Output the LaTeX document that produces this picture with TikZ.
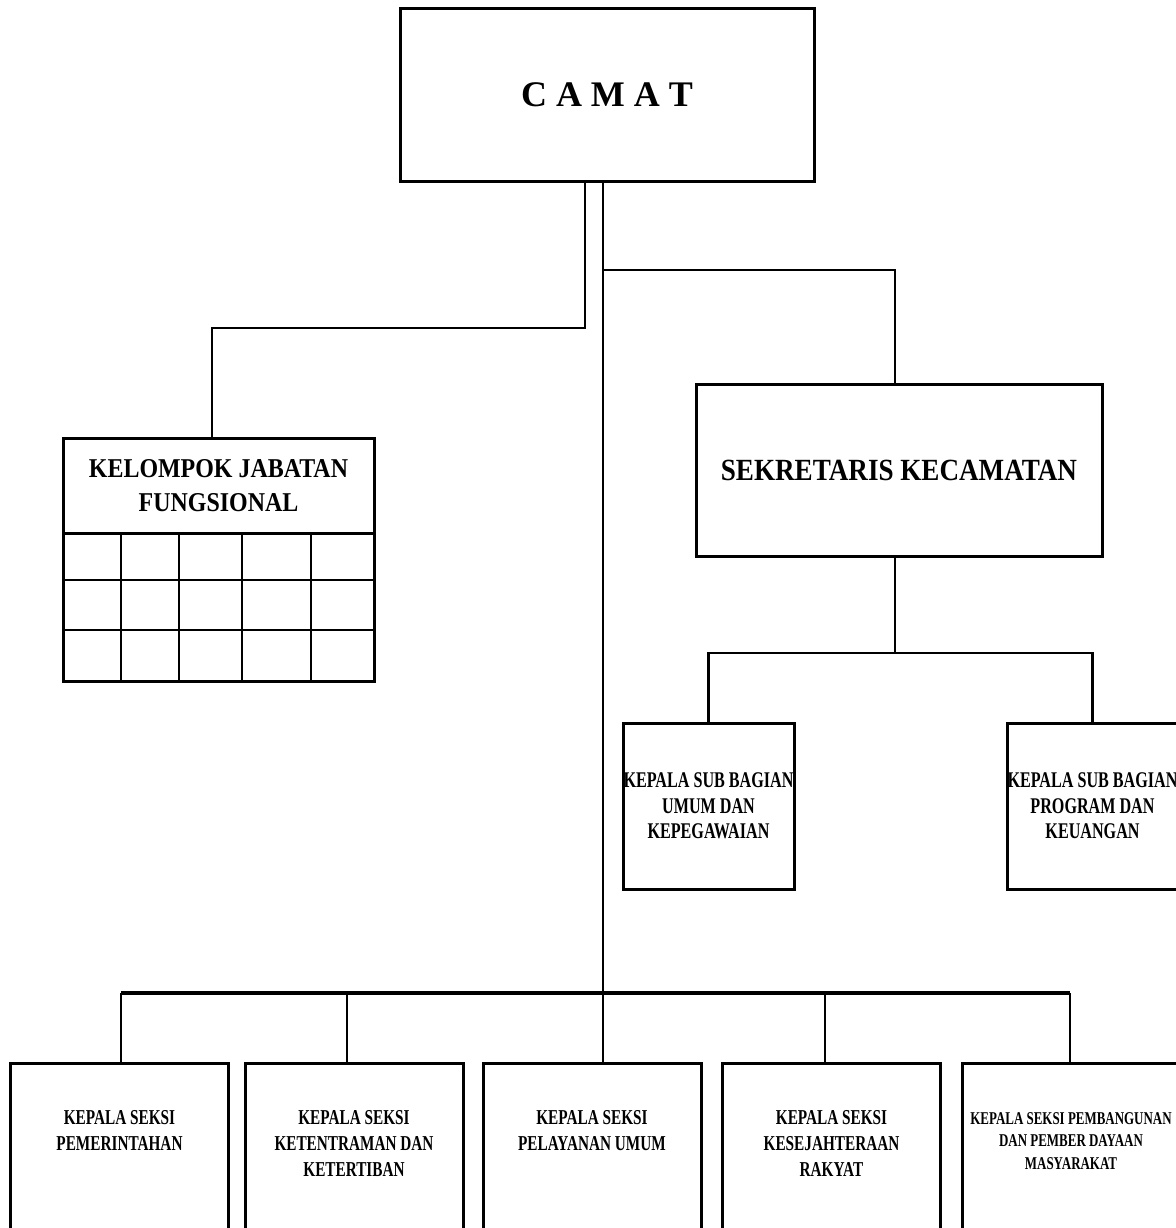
\documentclass[tikz,border=0pt]{standalone}
\usepackage{fontspec}
\setmainfont{Liberation Serif}
\newfontfamily\headfont[FakeStretch=0.88]{Liberation Serif}
\newfontfamily\narrowfont[FakeStretch=0.72]{Liberation Serif}
\usetikzlibrary{positioning}

\begin{document}
\begin{tikzpicture}[x=0.5pt, y=-0.5pt,
    unit/.style={draw, line width=1.5pt, inner sep=0pt, align=center},
    seksi/.style={unit, anchor=north, minimum width=109pt, minimum height=120pt},
    txt/.style={inner sep=0pt, align=center, anchor=north},
    link/.style={line width=1.4pt},
    bus/.style={line width=2.4pt},
    grid/.style={line width=1.2pt},
    headtxt/.style={font=\headfont\bfseries\fontsize{13.6}{17}\selectfont},
    subtxt/.style={font=\narrowfont\bfseries\fontsize{11.2}{12.75}\selectfont},
    seksitxt/.style={txt, font=\narrowfont\bfseries\fontsize{10.6}{13}\selectfont}]
    \useasboundingbox (0,0) rectangle (1176,1228);

    % Camat
    \node[unit, minimum width=207pt, minimum height=86.5pt,
          font=\bfseries\fontsize{18}{22}\selectfont] (camat) at (607,94.5) {C A M A T};

    % Kelompok jabatan fungsional
    \node[unit, minimum width=155.5pt, minimum height=47.5pt, headtxt] (kjf) at (218.5,485.5)
        {KELOMPOK JABATAN\\FUNGSIONAL};
    \draw[line width=1.5pt] (63,533) rectangle (374,681);
    \foreach \x in {121,179,242,311}
        \draw[grid] (\x,533) -- (\x,681);
    \foreach \y in {580,630}
        \draw[grid] (63,\y) -- (374,\y);

    % Sekretaris dan sub bagian
    \node[unit, minimum width=203pt, minimum height=86pt,
          font=\headfont\bfseries\fontsize{15.4}{18}\selectfont] (sek) at (899,470)
        {SEKRETARIS KECAMATAN};
    \node[unit, minimum width=85.5pt, minimum height=83pt, subtxt] (ksb1) at (708.5,806)
        {KEPALA SUB BAGIAN\\UMUM DAN\\KEPEGAWAIAN};
    \node[unit, minimum width=85.5pt, minimum height=83pt, subtxt] (ksb2) at (1092.5,806)
        {KEPALA SUB BAGIAN\\PROGRAM DAN\\KEUANGAN};

    % Seksi
    \node[seksi] (sk1) at (119.5,1062) {};
    \node[seksi] (sk2) at (354,1062) {};
    \node[seksi] (pel) at (592,1062) {};
    \node[seksi] (sk4) at (831.5,1062) {};
    \node[seksi] (sk5) at (1071,1062) {};
    \node[seksitxt, below=24pt of sk1.north] (sk1t) {KEPALA SEKSI\\PEMERINTAHAN};
    \node[seksitxt, below=24pt of sk2.north] (sk2t) {KEPALA SEKSI\\KETENTRAMAN DAN\\KETERTIBAN};
    \node[seksitxt, below=24pt of pel.north] (pelt) {KEPALA SEKSI\\PELAYANAN UMUM};
    \node[seksitxt, below=24pt of sk4.north] (sk4t) {KEPALA SEKSI\\KESEJAHTERAAN\\RAKYAT};
    \node[seksitxt, below=25pt of sk5.north, font=\narrowfont\bfseries\fontsize{9}{11.25}\selectfont] (sk5t)
        {KEPALA SEKSI PEMBANGUNAN\\DAN PEMBER DAYAAN\\MASYARAKAT};

    % Garis
    \coordinate (split) at (585,328);
    \coordinate (kjfin) at (212,328);
    \coordinate (skjoin) at (603,270);
    \coordinate (subbus) at (895,653);
    \coordinate (trunk) at (603,993);
    \draw[link] (camat.south -| split) -- (split) -- (kjfin) -- (kjf.north -| kjfin);
    \draw[link] (camat.south -| trunk) -- (pel.north -| trunk);
    \draw[link] (skjoin) -| (sek.north -| subbus);
    \draw[link] (sek.south -| subbus) -- (subbus);
    \draw[link] (ksb1.north) |- (subbus) -| (ksb2.north);
    \draw[bus] (121,993) -- (1070,993);
    \foreach \x/\n in {121/sk1,347/sk2,825/sk4,1070/sk5}
        \draw[link] (\x,993) -- (\n.north -| \x,0);
\end{tikzpicture}
\end{document}
